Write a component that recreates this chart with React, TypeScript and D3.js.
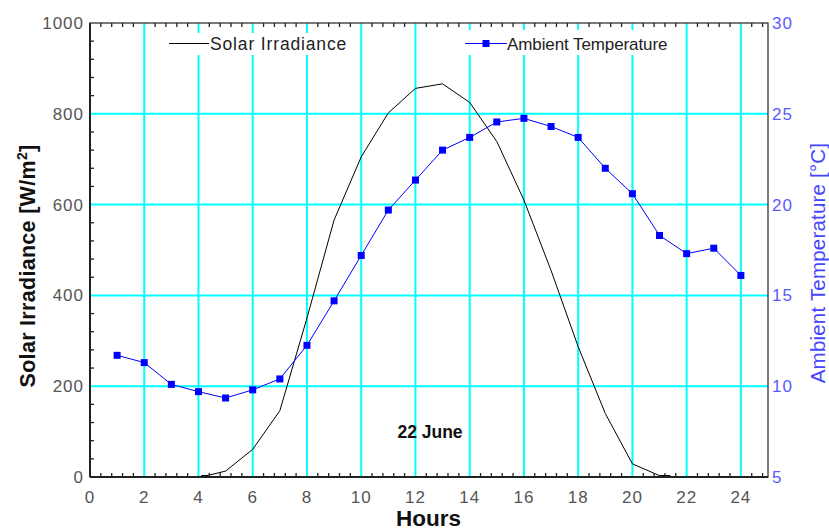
import React from "react";
import { scaleLinear, line as d3line, range } from "d3";

// hours of the day
const tempHours = [1, 2, 3, 4, 5, 6, 7, 8, 9, 10, 11, 12, 13, 14, 15, 16, 17, 18, 19, 20, 21, 22, 23, 24];
// ambient temperature [°C]
const tempValues = [11.7, 11.3, 10.1, 9.7, 9.35, 9.8, 10.4, 12.25, 14.7, 17.2, 19.7, 21.35, 23.0, 23.7, 24.55, 24.75, 24.3, 23.7, 22.0, 20.6, 18.3, 17.3, 17.6, 16.1];

// solar irradiance [W/m2]
const solarHours = [4.1, 5, 6, 7, 8, 9, 10, 11, 12, 13, 14, 15, 16, 17, 18, 19, 20, 21, 21.4];
const solarValues = [0, 13, 61, 146, 350, 566, 705, 802, 856, 866, 825, 739, 610, 455, 287, 140, 29, 3, 0];

const xTicks = [0, 2, 4, 6, 8, 10, 12, 14, 16, 18, 20, 22, 24];
const leftTicks = [0, 200, 400, 600, 800, 1000];
const rightTicks = [5, 10, 15, 20, 25, 30];

const W = 829;
const H = 532;
const FONT = "Liberation Sans, Arial, sans-serif";

export default function App() {
  const x = scaleLinear().domain([0, 25]).range([90, 768]);
  const yL = scaleLinear().domain([0, 1000]).range([477, 23]);
  const yR = scaleLinear().domain([5, 30]).range([477, 23]);

  const solar = solarHours.map((h, i) => ({ h, v: solarValues[i] }));
  const temp = tempHours.map((h, i) => ({ h, v: tempValues[i] }));

  const solarLine = d3line<{ h: number; v: number }>()
    .x((d) => x(d.h))
    .y((d) => yL(d.v));
  const tempLine = d3line<{ h: number; v: number }>()
    .x((d) => x(d.h))
    .y((d) => yR(d.v));

  // minor ticks: 4 between each pair of majors
  const xMinor = range(0, 25.01, 0.4).filter((v) => Math.abs(v / 2 - Math.round(v / 2)) > 0.01);
  const yMinor = range(0, 1000, 40).filter((v) => v % 200 !== 0);

  const [x0, x1] = x.range();
  const [yb, yt] = yL.range();

  return (
    <svg
      width={W}
      height={H}
      style={{ position: "absolute", left: 0, top: 0, background: "#fff" }}
      fontFamily={FONT}
    >
      {/* grid */}
      {xTicks.filter((t) => t > 0).map((t) => (
        <line key={"gx" + t} x1={x(t)} x2={x(t)} y1={yt} y2={yb} stroke="#00ffff" strokeWidth={2} />
      ))}
      {leftTicks.filter((t) => t > 0 && t < 1000).map((t) => (
        <line key={"gy" + t} x1={x0} x2={x1} y1={yL(t)} y2={yL(t)} stroke="#00ffff" strokeWidth={2} />
      ))}

      {/* legend boxes */}
      <rect x={166} y={33} width={184} height={22} fill="#fff" />
      <rect x={462} y={30} width={208} height={25} fill="#fff" />
      <line x1={169} x2={209} y1={43.5} y2={43.5} stroke="#000" strokeWidth={1} />
      <text x={210} y={49.5} fontSize={17.5} fill="#222" letterSpacing={0.85}>Solar Irradiance</text>
      <line x1={465} x2={507} y1={43.5} y2={43.5} stroke="#0000ff" strokeWidth={1} />
      <rect x={486 - 3.5} y={43.5 - 3.5} width={7} height={7} fill="#0000ff" />
      <text x={507} y={49.5} fontSize={17} fill="#222" letterSpacing={-0.1}>Ambient Temperature</text>

      {/* series */}
      <path d={solarLine(solar) || ""} fill="none" stroke="#000" strokeWidth={1} />
      <line x1={x(4.1)} x2={x(4.35)} y1={yb - 1} y2={yb - 1} stroke="#000" strokeWidth={2} />
      <line x1={x(21)} x2={x(21.4)} y1={yb - 1} y2={yb - 1} stroke="#000" strokeWidth={2} />
      <path d={tempLine(temp) || ""} fill="none" stroke="#0000ff" strokeWidth={1} />
      {temp.map((d) => (
        <rect key={"m" + d.h} x={x(d.h) - 3.5} y={yR(d.v) - 3.5} width={7} height={7} fill="#0000ff" />
      ))}

      {/* frame */}
      <rect x={x0} y={yt} width={x1 - x0} height={yb - yt} fill="none" stroke="#333" strokeWidth={1.3} />
      <line x1={x0} x2={x0} y1={yt} y2={yb} stroke="#222" strokeWidth={2} />
      <line x1={x0} x2={x1} y1={yb} y2={yb} stroke="#222" strokeWidth={2} />

      {/* minor ticks */}
      {xMinor.map((t) => (
        <g key={"mx" + t}>
          <line x1={x(t)} x2={x(t)} y1={yb} y2={yb - 4} stroke="#222" strokeWidth={1.3} />
          <line x1={x(t)} x2={x(t)} y1={yt} y2={yt + 4} stroke="#222" strokeWidth={1.3} />
        </g>
      ))}
      {yMinor.map((t) => (
        <line key={"my" + t} x1={x0} x2={x0 + 4} y1={yL(t)} y2={yL(t)} stroke="#222" strokeWidth={1.3} />
      ))}

      {/* tick labels */}
      {xTicks.map((t) => (
        <text key={"tx" + t} x={x(t)} y={503} textAnchor="middle" fontSize={17} fill="#555" letterSpacing={1}>
          {t}
        </text>
      ))}
      {leftTicks.map((t) => (
        <text key={"tl" + t} x={84} y={yL(t) + 6} textAnchor="end" fontSize={17} fill="#555" letterSpacing={1}>
          {t}
        </text>
      ))}
      {rightTicks.map((t) => (
        <text key={"tr" + t} x={772} y={yR(t) + 6} fontSize={17} fill="#5a5aff" letterSpacing={1}>
          {t}
        </text>
      ))}

      {/* annotation */}
      <text x={430} y={437.5} textAnchor="middle" fontSize={17.5} fontWeight="bold" fill="#111">22 June</text>

      {/* axis titles */}
      <text x={428.5} y={526} textAnchor="middle" fontSize={22.5} fontWeight="bold" fill="#111">Hours</text>
      <text
        transform="translate(35,266) rotate(-90)"
        textAnchor="middle"
        fontSize={21.5}
        fontWeight="bold"
        fill="#111"
        letterSpacing={0.3}
      >
        Solar Irradiance [W/m<tspan dy={-8} fontSize={14}>2</tspan><tspan dy={8}>]</tspan>
      </text>
      <text
        transform="translate(825,263) rotate(-90)"
        textAnchor="middle"
        fontSize={20.5}
        fill="#4646ff"
        letterSpacing={0.2}
      >
        Ambient Temperature [°C]
      </text>
    </svg>
  );
}
